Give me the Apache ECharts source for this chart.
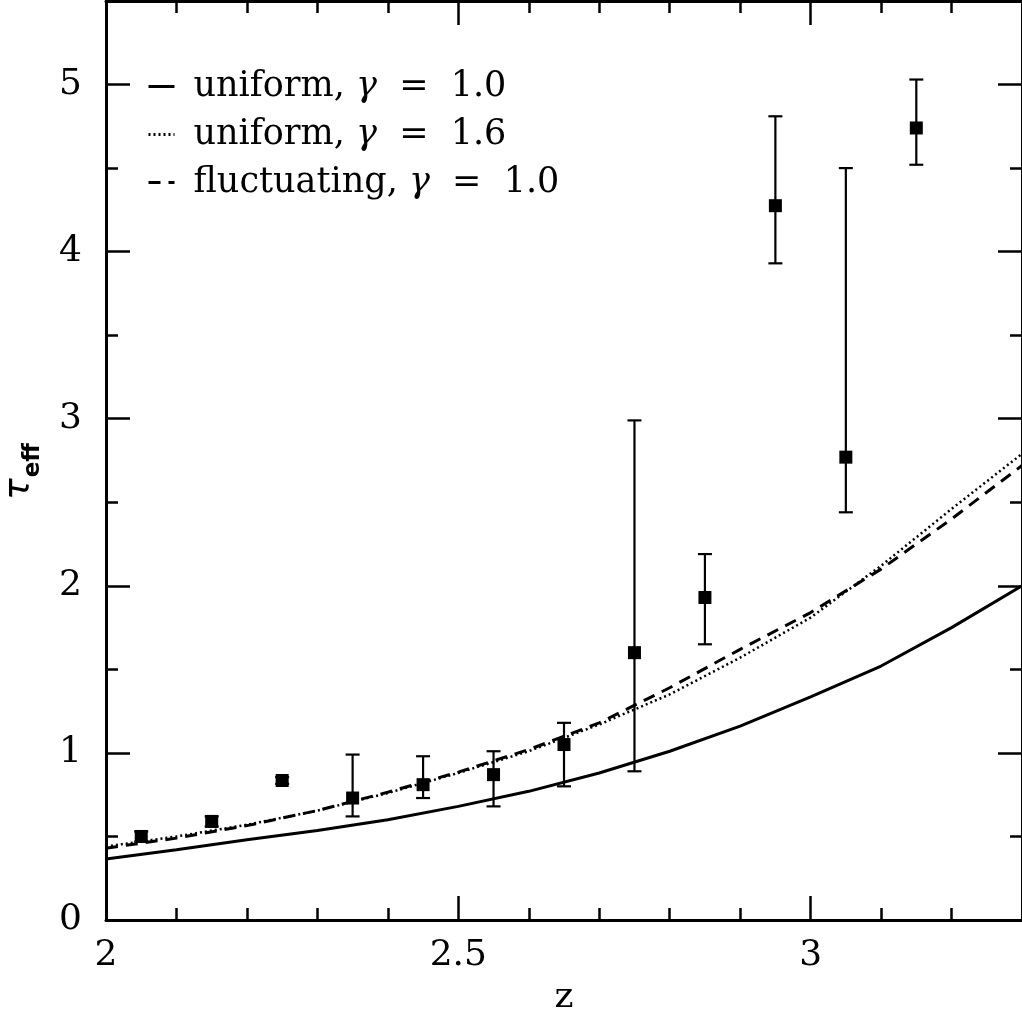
<!DOCTYPE html>
<html>
<head>
<meta charset="utf-8">
<script src="https://cdn.jsdelivr.net/npm/echarts@6/dist/echarts.min.js"></script>
<style>
html, body { margin: 0; padding: 0; background: #fff; }
#chart { width: 1022px; height: 1012px; }
</style>
</head>
<body>
<div id="chart"></div>
<script>
// Model curves, sampled every 0.1 in redshift
const zModel = [2.0, 2.1, 2.2, 2.3, 2.4, 2.5, 2.6, 2.7, 2.8, 2.9, 3.0, 3.1, 3.2, 3.3];
const tauUniformG10 = [0.365, 0.42, 0.48, 0.535, 0.60, 0.68, 0.77, 0.88, 1.01, 1.16, 1.335, 1.52, 1.75, 2.00];
const tauUniformG16 = [0.44, 0.50, 0.57, 0.655, 0.76, 0.88, 1.01, 1.17, 1.35, 1.57, 1.81, 2.12, 2.46, 2.79];
const tauFluctG10 = [0.43, 0.49, 0.565, 0.655, 0.765, 0.885, 1.02, 1.18, 1.39, 1.62, 1.84, 2.10, 2.40, 2.72];

// Measured effective optical depth with error bars
const zObs = [2.05, 2.15, 2.25, 2.35, 2.45, 2.55, 2.65, 2.75, 2.85, 2.95, 3.05, 3.15];
const tauObs = [0.50, 0.59, 0.835, 0.73, 0.81, 0.87, 1.05, 1.60, 1.93, 4.275, 2.77, 4.74];
const tauLow = [0.47, 0.56, 0.815, 0.62, 0.73, 0.68, 0.80, 0.89, 1.65, 3.93, 2.44, 4.52];
const tauHigh = [0.53, 0.62, 0.855, 0.99, 0.98, 1.01, 1.18, 2.99, 2.19, 4.81, 4.50, 5.03];

// Tick labels
const zTickLabels = ['2', '2.5', '3'];
const tauTickLabels = ['0', '1', '2', '3', '4', '5'];

const seriesNames = ['uniform, γ  =  1.0', 'uniform, γ  =  1.6', 'fluctuating, γ  =  1.0'];

const serif = 'DejaVu Serif';
const frame = { show: true, onZero: false, lineStyle: { color: '#000', width: 3 } };
const noLine = { show: false, onZero: false };

function labelIn(list) {
  return function (v) {
    const s = String(Math.round(v * 100) / 100);
    return list.indexOf(s) >= 0 ? s : '';
  };
}

function xAxisDef(position, major, showLabel) {
  return {
    type: 'value', min: 2, max: 3.3, position: position,
    interval: major ? 0.5 : 0.1,
    axisLine: major ? frame : noLine,
    axisTick: { show: true, inside: true, length: major ? 24 : 12, lineStyle: { color: '#000', width: 2.5 } },
    axisLabel: showLabel ? {
      show: true, margin: 18, color: '#000', fontFamily: serif, fontSize: 36,
      showMaxLabel: false, formatter: labelIn(zTickLabels)
    } : { show: false },
    splitLine: { show: false }
  };
}

function yAxisDef(position, major, showLabel) {
  return {
    type: 'value', min: 0, max: 5.5, position: position,
    interval: major ? 1 : 0.5,
    axisLine: major ? frame : noLine,
    axisTick: { show: true, inside: true, length: major ? 24 : 12, lineStyle: { color: '#000', width: 2.5 } },
    axisLabel: showLabel ? {
      show: true, margin: 24, color: '#000', fontFamily: serif, fontSize: 36,
      showMaxLabel: false, formatter: labelIn(tauTickLabels)
    } : { show: false },
    splitLine: { show: false }
  };
}

const xAxes = [
  xAxisDef('bottom', true, true),
  xAxisDef('bottom', false, false),
  xAxisDef('top', true, false),
  xAxisDef('top', false, false)
];
xAxes[0].name = 'z';
xAxes[0].nameLocation = 'middle';
xAxes[0].nameGap = 60;
xAxes[0].nameTextStyle = { color: '#000', fontFamily: serif, fontSize: 36 };

const yAxes = [
  yAxisDef('left', true, true),
  yAxisDef('left', false, false),
  yAxisDef('right', true, false),
  yAxisDef('right', false, false)
];
yAxes[0].name = '{t|τ}{s|eff}';
yAxes[0].nameLocation = 'middle';
yAxes[0].nameGap = 66;
yAxes[0].nameRotate = 90;
yAxes[0].nameTextStyle = {
  color: '#000',
  padding: [0, 22, 0, 0],
  rich: {
    t: { fontFamily: 'DejaVu Sans', fontStyle: 'italic', fontSize: 36, color: '#000', lineHeight: 38, verticalAlign: 'top' },
    s: { fontFamily: 'DejaVu Sans', fontWeight: 'bold', fontSize: 23, color: '#000', lineHeight: 24, verticalAlign: 'top', padding: [20, 0, 0, 1] }
  }
};

const chart = echarts.init(document.getElementById('chart'));
chart.setOption({
  animation: false,
  backgroundColor: '#fff',
  grid: { left: 106, right: 0, top: 1, bottom: 92, containLabel: false, outerBoundsMode: 'none' },
  xAxis: xAxes,
  yAxis: yAxes,
  legend: {
    show: true,
    orient: 'vertical',
    left: 142, top: 64,
    itemWidth: 26, itemHeight: 14, itemGap: 13,
    data: seriesNames,
    selectedMode: false,
    itemStyle: { opacity: 0 },
    lineStyle: { width: 3 },
    textStyle: {
      color: '#000', fontFamily: serif, fontSize: 35, lineHeight: 35,
      padding: [0, 0, 0, 14],
      rich: { i: { fontFamily: serif, fontStyle: 'italic', fontSize: 35, color: '#000', lineHeight: 35 } }
    },
    formatter: function (name) { return name.replace('γ', '{i|γ}'); }
  },
  series: [
    {
      name: seriesNames[0], type: 'line', symbol: 'none', z: 3,
      data: zModel.map((z, i) => [z, tauUniformG10[i]]),
      lineStyle: { color: '#000', width: 3, type: 'solid' },
      itemStyle: { color: '#000' }
    },
    {
      name: seriesNames[1], type: 'line', symbol: 'none', z: 3,
      data: zModel.map((z, i) => [z, tauUniformG16[i]]),
      lineStyle: { color: '#000', width: 2.5, type: [2, 3] },
      itemStyle: { color: '#000' }
    },
    {
      name: seriesNames[2], type: 'line', symbol: 'none', z: 3,
      data: zModel.map((z, i) => [z, tauFluctG10[i]]),
      lineStyle: { color: '#000', width: 3, type: [12, 8] },
      itemStyle: { color: '#000' }
    },
    {
      name: 'errors', type: 'custom', z: 4,
      data: zObs.map((z, i) => [z, tauLow[i], tauHigh[i]]),
      encode: { x: 0, y: [1, 2] },
      renderItem: function (params, api) {
        const x = api.value(0);
        const pLo = api.coord([x, api.value(1)]);
        const pHi = api.coord([x, api.value(2)]);
        const cap = 7;
        const st = { stroke: '#000', lineWidth: 2.2 };
        return {
          type: 'group',
          children: [
            { type: 'line', shape: { x1: pLo[0], y1: pLo[1], x2: pHi[0], y2: pHi[1] }, style: st },
            { type: 'line', shape: { x1: pLo[0] - cap, y1: pLo[1], x2: pLo[0] + cap, y2: pLo[1] }, style: st },
            { type: 'line', shape: { x1: pHi[0] - cap, y1: pHi[1], x2: pHi[0] + cap, y2: pHi[1] }, style: st }
          ]
        };
      }
    },
    {
      name: 'data', type: 'scatter', z: 5,
      symbol: 'rect', symbolSize: 13,
      data: zObs.map((z, i) => [z, tauObs[i]]),
      itemStyle: { color: '#000', opacity: 1 }
    }
  ]
});
</script>
</body>
</html>
